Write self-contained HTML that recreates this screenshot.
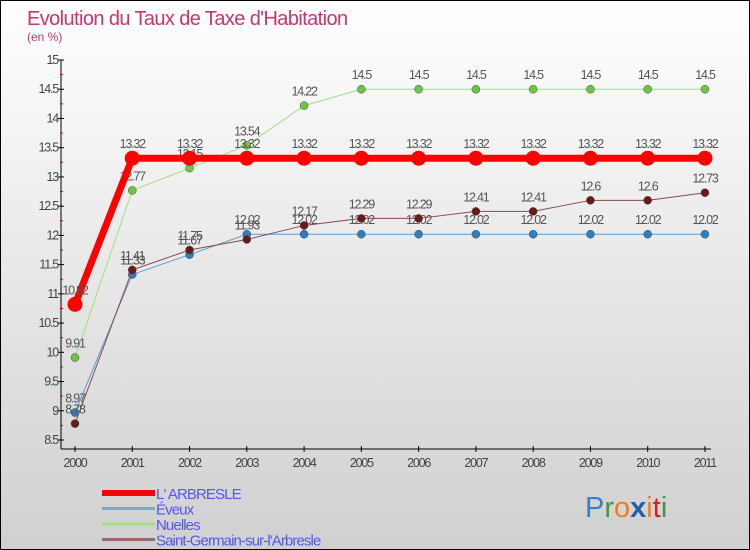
<!DOCTYPE html>
<html><head><meta charset="utf-8"><style>
body{margin:0}
#c{width:748px;height:548px;border:1px solid #000;background:linear-gradient(#fff,#d0d0d0);position:relative;font-family:"Liberation Sans",sans-serif;overflow:hidden}
svg text{font-family:"Liberation Sans",sans-serif}
</style></head><body>
<div id="c">
<svg id="s" width="748" height="548">
<text x="26" y="24" font-size="20" fill="#c8346e" letter-spacing="-0.6">Evolution du Taux de Taxe d'Habitation</text>
<text x="26" y="40" font-size="12" fill="#c8346e">(en %)</text>
<g id="g"></g>
<text x="584" y="516" font-size="29"><tspan fill="#3b7ec8">P</tspan><tspan fill="#3b9a3b">r</tspan><tspan fill="#f07d1a">o</tspan><tspan fill="#1e5fb0" font-weight="bold">x</tspan><tspan fill="#f07d1a">i</tspan><tspan fill="#d02020">t</tspan><tspan fill="#3b9a3b">i</tspan></text>
</svg></div>
<script>
const years=["2000","2001","2002","2003","2004","2005","2006","2007","2008","2009","2010","2011"];
const arbresle=[10.82,13.32,13.32,13.32,13.32,13.32,13.32,13.32,13.32,13.32,13.32,13.32];
const eveux=[8.97,11.33,11.67,12.02,12.02,12.02,12.02,12.02,12.02,12.02,12.02,12.02];
const nuelles=[9.91,12.77,13.15,13.54,14.22,14.5,14.5,14.5,14.5,14.5,14.5,14.5];
const sga=[8.78,11.41,11.75,11.93,12.17,12.29,12.29,12.41,12.41,12.6,12.6,12.73];
const yTicks=[8.5,9,9.5,10,10.5,11,11.5,12,12.5,13,13.5,14,14.5,15];
const NS="http://www.w3.org/2000/svg",g=document.getElementById('g');
const X=i=>74+i*57.27, Y=v=>439-(v-8.5)*58.46;
function el(t,a,p){const e=document.createElementNS(NS,t);for(const k in a)e.setAttribute(k,a[k]);(p||g).appendChild(e);return e;}
let ax=el('line',{x1:60,y1:59,x2:60,y2:448,stroke:'#000'});


let xa=el('line',{x1:60,y1:448,x2:710,y2:448,stroke:'#000'});


yTicks.forEach((v,i)=>{el('line',{x1:57,y1:Y(v),x2:63,y2:Y(v),stroke:'#000'});
 if(i<yTicks.length-1)el('line',{x1:59,y1:Y(v+0.25),x2:62,y2:Y(v+0.25),stroke:'#e00'});
 const t=el('text',{x:57,y:Y(v)+4,'text-anchor':'end','font-size':12.5,fill:'#444','letter-spacing':'-1.2'});t.textContent=v;
 
 });
years.forEach((y,i)=>{el('line',{x1:X(i),y1:445,x2:X(i),y2:451,stroke:'#000'});
 const t=el('text',{x:X(i),y:466,'text-anchor':'middle','font-size':12.5,fill:'#444','letter-spacing':'-1.2'});t.textContent=y;
 
 });
const series=[[eveux,'#5a9fd4','#2f7fc0',1,4,'eveux'],[nuelles,'#a0e080','#6cc840',1,4,'nuelles'],[sga,'#8a4a4a','#6a1a1a',1,4,'saint-germain'],[arbresle,'#f00','#f00',7,7.5,'l-arbresle']];
series.forEach(([d,lc,pc,w,r,n])=>{
 const p=el('polyline',{points:d.map((v,i)=>X(i)+','+Y(v)).join(' '),fill:'none',stroke:lc,'stroke-width':w});
 
 
 d.forEach((v,i)=>{const c=el('circle',{cx:X(i),cy:Y(v),r:r,fill:pc,stroke:w>1?'none':'#444','stroke-width':0.5});
  
  
  const t=el('text',{x:X(i),y:Y(v)-10,'text-anchor':'middle','font-size':12.5,fill:'#555','letter-spacing':'-1.2'});t.textContent=v;
  
  });
});
const leg=[['L\' ARBRESLE','#f00',6],['Éveux','#7aa8cc',3],['Nuelles','#a0e080',3],['Saint-Germain-sur-l\'Arbresle','#9a6a6a',3]];
leg.forEach(([n,c,w],i)=>{const y=492+i*15.5;
 const l=el('line',{x1:101,y1:y,x2:154,y2:y,stroke:c,'stroke-width':w});
 
 
 const t=el('text',{x:155,y:y+6,'font-size':15,fill:'#5555ee','letter-spacing':'-0.9'});t.textContent=n;
 
 });
</script></body></html>
